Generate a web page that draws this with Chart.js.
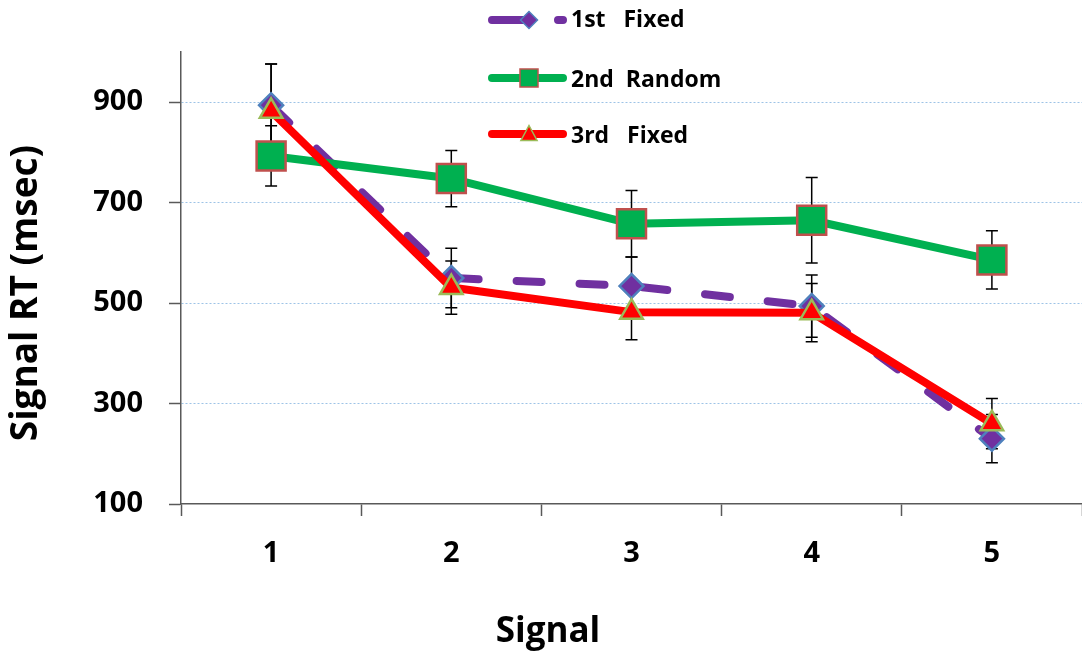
<!DOCTYPE html>
<html><head><meta charset="utf-8">
<script src="https://cdn.jsdelivr.net/npm/chart.js@4/dist/chart.umd.min.js"></script>
<style>html,body{margin:0;padding:0;background:#fff;overflow:hidden;width:1082px;height:654px}canvas{display:block}</style>
</head><body>
<canvas id="c" width="1105" height="654"></canvas>
<script>
// ---- data ----
const categories = ['1', '2', '3', '4', '5'];
const fixed1 = [894, 550, 534, 494, 230];
const fixed1Err = [82, 59, 58, 62, 48];
const random2 = [793, 748, 658, 665, 586];
const random2Err = [60, 56, 66, 85, 58];
const fixed3 = [882, 531, 482, 481, 260];
const fixed3Err = [94, 53, 55, 58, 50];
const yTicks = [100, 300, 500, 700, 900];
const seriesNames = ['1st   Fixed', '2nd  Random', '3rd   Fixed'];
const xTitle = 'Signal';
const yTitle = 'Signal RT (msec)';

const FONT = '"Open Sans", "DejaVu Sans", sans-serif';
const AXIS = '#595959';

const errorBarPlugin = {
  id: 'errorBars',
  beforeDatasetsDraw(chart) {
    const ctx = chart.ctx, ys = chart.scales.y;
    ctx.save();
    ctx.strokeStyle = '#000';
    ctx.lineWidth = 1.5;
    chart.data.datasets.forEach((ds, i) => {
      const meta = chart.getDatasetMeta(i);
      meta.data.forEach((pt, j) => {
        const v = ds.data[j], e = ds.errors[j];
        const t = ys.getPixelForValue(v + e), b = ys.getPixelForValue(v - e);
        ctx.beginPath();
        ctx.moveTo(pt.x, t); ctx.lineTo(pt.x, b);
        ctx.moveTo(pt.x - 6, t); ctx.lineTo(pt.x + 6, t);
        ctx.moveTo(pt.x - 6, b); ctx.lineTo(pt.x + 6, b);
        ctx.stroke();
      });
    });
    ctx.restore();
  }
};

function drawMarker(ctx, style, x, y, r, fill, stroke, bw) {
  ctx.save();
  ctx.fillStyle = fill; ctx.strokeStyle = stroke; ctx.lineWidth = bw;
  ctx.setLineDash([]);
  ctx.beginPath();
  if (style === 'rectRot') {
    ctx.moveTo(x - r, y); ctx.lineTo(x, y - r); ctx.lineTo(x + r, y); ctx.lineTo(x, y + r); ctx.closePath();
  } else if (style === 'rect') {
    ctx.rect(x - r, y - r, 2 * r, 2 * r);
  } else if (style === 'triangle') {
    ctx.moveTo(x, y - r); ctx.lineTo(x + r * 0.95, y + r * 0.75); ctx.lineTo(x - r * 0.95, y + r * 0.75); ctx.closePath();
  }
  ctx.fill(); ctx.stroke();
  ctx.restore();
}

const titlesLegendPlugin = {
  id: 'titlesLegend',
  afterDraw(chart) {
    const ctx = chart.ctx;
    ctx.save();
    ctx.fillStyle = '#000';
    ctx.font = 'bold 35px ' + FONT;
    ctx.textAlign = 'center';
    ctx.textBaseline = 'alphabetic';
    ctx.fillText(xTitle, 548, 642);
    ctx.save();
    ctx.translate(37, 293);
    ctx.rotate(-Math.PI / 2);
    ctx.font = 'bold 37px ' + FONT;
    ctx.fillText(yTitle, 0, 0);
    ctx.restore();
    const rows = [20, 78, 134];
    const textBase = [27, 87, 143];
    [0, 1, 2].forEach((i, k) => {
      const ds = chart.data.datasets[i];
      const y = rows[k];
      ctx.save();
      ctx.strokeStyle = ds.borderColor;
      ctx.lineWidth = 8;
      ctx.lineCap = 'round';
      ctx.beginPath();
      if (ds.borderDash && ds.borderDash.length) {
        ctx.moveTo(492, y); ctx.lineTo(528, y);
        ctx.moveTo(558, y); ctx.lineTo(563, y);
      } else {
        ctx.moveTo(492, y); ctx.lineTo(563, y);
      }
      ctx.stroke();
      ctx.restore();
      const r = ds.pointStyle === 'rect' ? 9 : 8.5;
      drawMarker(ctx, ds.pointStyle, 529, y, r, ds.pointBackgroundColor, ds.pointBorderColor, 1.5);
      ctx.fillStyle = '#000';
      ctx.font = 'bold 23px ' + FONT;
      ctx.textAlign = 'left';
      ctx.textBaseline = 'alphabetic';
      ctx.fillText(ds.label, 571, textBase[k]);
    });
    ctx.restore();
  }
};

function build() {
  new Chart(document.getElementById('c'), {
    type: 'line',
    data: {
      labels: categories,
      datasets: [
        {
          label: seriesNames[0], data: fixed1, errors: fixed1Err, order: 2,
          borderColor: '#7030A0', borderWidth: 8, borderDash: [25, 38], borderCapStyle: 'round',
          pointStyle: 'rectRot', pointRadius: 12, pointHoverRadius: 12,
          pointBackgroundColor: '#7030A0', pointBorderColor: '#4F81BD', pointBorderWidth: 2.5,
          tension: 0, fill: false
        },
        {
          label: seriesNames[1], data: random2, errors: random2Err, order: 1,
          borderColor: '#00B050', borderWidth: 8, borderCapStyle: 'round', borderJoinStyle: 'round',
          pointStyle: 'rect', pointRadius: 20.5, pointHoverRadius: 20.5,
          pointBackgroundColor: '#00B050', pointBorderColor: '#C0504D', pointBorderWidth: 2.5,
          tension: 0, fill: false
        },
        {
          label: seriesNames[2], data: fixed3, errors: fixed3Err, order: 0,
          borderColor: '#FF0000', borderWidth: 8, borderCapStyle: 'round', borderJoinStyle: 'round',
          pointStyle: 'triangle', pointRadius: 13, pointHoverRadius: 13,
          pointBackgroundColor: '#FF0000', pointBorderColor: '#9BBB59', pointBorderWidth: 2.5,
          tension: 0, fill: false
        }
      ]
    },
    options: {
      responsive: false,
      animation: false,
      events: [],
      layout: { padding: { top: 52, right: 1, left: 0, bottom: 0 } },
      plugins: { legend: { display: false }, tooltip: { enabled: false }, title: { display: false } },
      scales: {
        x: {
          type: 'category',
          offset: true,
          afterFit(s) { s.height = 150; s.paddingLeft = 0; s.paddingRight = 0; },
          border: { color: AXIS, width: 1.5 },
          grid: { offset: true, drawOnChartArea: false, tickLength: 12, tickColor: AXIS, tickWidth: 1.5 },
          ticks: { color: '#000', font: { family: FONT, size: 29, weight: 'bold' }, padding: 20, maxRotation: 0 }
        },
        y: {
          min: 100, max: 1000,
          afterFit(s) { s.width = 181; s.paddingTop = 0; s.paddingBottom = 0; },
          afterBuildTicks(s) { s.ticks = yTicks.map(v => ({ value: v })); },
          border: { color: AXIS, width: 1.5, dash: [2, 2] },
          grid: {
            color: c => (c.tick && c.tick.value === 100) ? 'rgba(0,0,0,0)' : '#9DC3E6',
            lineWidth: 1,
            tickLength: 12,
            tickColor: AXIS,
            tickWidth: 1.5,
            tickBorderDash: []
          },
          ticks: { color: '#000', font: { family: FONT, size: 29, weight: 'bold' }, padding: 26 }
        }
      }
    },
    plugins: [errorBarPlugin, titlesLegendPlugin]
  });
}

if (document.fonts && document.fonts.load) {
  Promise.all([
    document.fonts.load('bold 29px "Open Sans"'),
    document.fonts.load('bold 35px "Open Sans"')
  ]).then(build, build);
} else { build(); }
</script>
</body></html>
